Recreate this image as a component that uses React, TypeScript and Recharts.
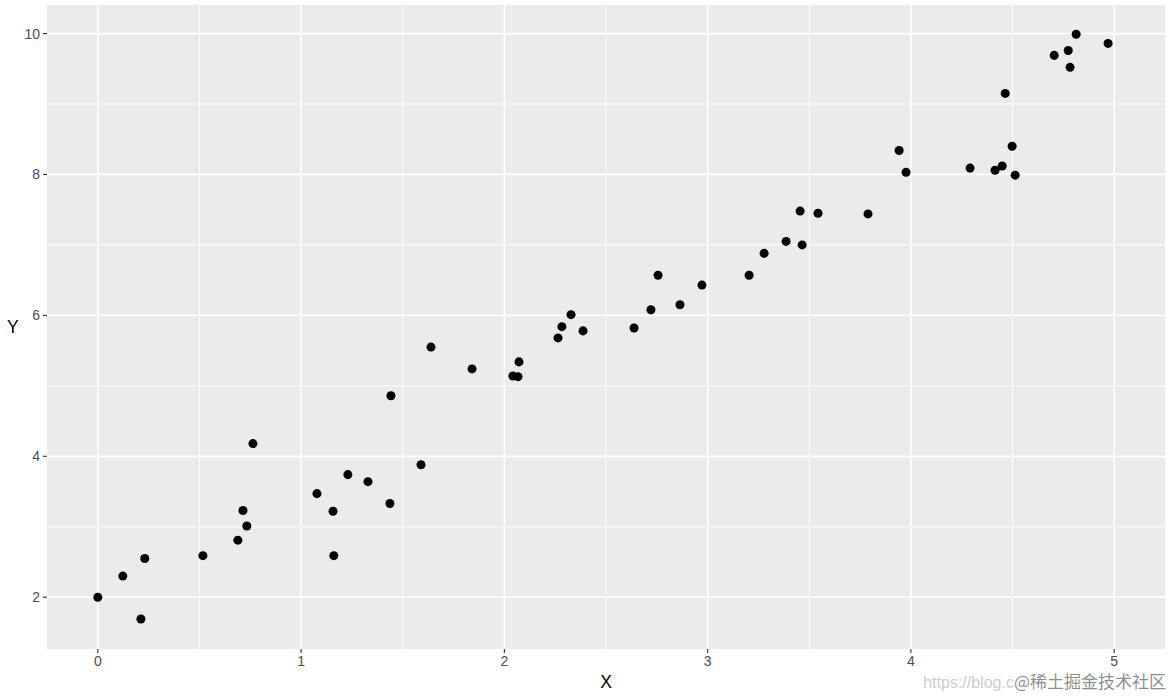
import React from "react";
import {
  ScatterChart, Scatter, XAxis, YAxis, ZAxis, CartesianGrid, Label,
} from "recharts";

// x and y, one pair per point
const X_VALUES = [
  0, 0.123, 0.212, 0.231, 0.517, 0.689, 0.714, 0.733, 0.763,
  1.078, 1.157, 1.161, 1.230, 1.329, 1.437, 1.442, 1.590, 1.639, 1.841,
  2.042, 2.067, 2.072, 2.264, 2.283, 2.328, 2.387, 2.638, 2.721, 2.756, 2.864, 2.972,
  3.204, 3.278, 3.386, 3.455, 3.465, 3.543, 3.789, 3.942, 3.976,
  4.291, 4.414, 4.449, 4.464, 4.498, 4.513, 4.705, 4.774, 4.783, 4.813, 4.970,
];
const Y_VALUES = [
  2.00, 2.30, 1.69, 2.55, 2.59, 2.81, 3.23, 3.01, 4.18,
  3.47, 3.22, 2.59, 3.74, 3.64, 3.33, 4.86, 3.88, 5.55, 5.24,
  5.14, 5.13, 5.34, 5.68, 5.84, 6.01, 5.78, 5.82, 6.08, 6.57, 6.15, 6.43,
  6.57, 6.88, 7.05, 7.48, 7.00, 7.45, 7.44, 8.34, 8.03,
  8.09, 8.06, 8.12, 9.15, 8.40, 7.99, 9.69, 9.76, 9.52, 9.99, 9.86,
];
const X_TICKS = [0, 1, 2, 3, 4, 5];
const Y_TICKS = [2, 4, 6, 8, 10];
const X_MINOR = [0.5, 1.5, 2.5, 3.5, 4.5];
const Y_MINOR = [3, 5, 7, 9];

const points = X_VALUES.map((x, i) => ({ x, y: Y_VALUES[i] }));

const FONT = "'Liberation Sans', Arial, sans-serif";
const TICK = { fill: "#4D4D4D", fontSize: 14, fontFamily: FONT };

export default function App() {
  return (
    <div style={{ position: "absolute", left: 0, top: 0, width: 1174, height: 697, background: "#fff" }}>
      <ScatterChart width={1174} height={697} margin={{ top: 5, right: 9, left: 0, bottom: 0 }}>
        {/* minor grid + panel fill */}
        <CartesianGrid fill="#EBEBEB" fillOpacity={1} stroke="#FFFFFF" strokeWidth={0.9}
          horizontalValues={Y_MINOR} verticalValues={X_MINOR} />
        {/* major grid */}
        <CartesianGrid fill="none" stroke="#FFFFFF" strokeWidth={1.7}
          horizontalValues={Y_TICKS} verticalValues={X_TICKS} />
        <XAxis type="number" dataKey="x" domain={[-0.25, 5.25]} ticks={X_TICKS}
          height={48} axisLine={false} tickSize={4} tickMargin={3}
          tickLine={{ stroke: "#333333", strokeWidth: 1.1 }} tick={TICK}
          allowDataOverflow>
          <Label value="X" position="insideBottom" offset={9}
            style={{ fill: "#000", fontSize: 17.5, fontFamily: FONT }} />
        </XAxis>
        <YAxis type="number" dataKey="y" domain={[1.265, 10.405]} ticks={Y_TICKS}
          width={47} axisLine={false} tickSize={4} tickMargin={3}
          tickLine={{ stroke: "#333333", strokeWidth: 1.1 }} tick={TICK}
          allowDataOverflow>
          <Label value="Y" position="insideLeft" offset={7} angle={0}
            style={{ fill: "#000", fontSize: 17.5, fontFamily: FONT }} />
        </YAxis>
        <ZAxis range={[66, 66]} />
        <Scatter data={points} fill="#000000" isAnimationActive={false} />
      </ScatterChart>
      <div style={{
        position: "absolute", right: 8, top: 668, fontFamily: FONT, fontSize: 16,
        whiteSpace: "nowrap", color: "rgba(190,190,190,0.8)",
      }}>
        https://blog.c
        <span style={{ color: "rgba(120,120,120,0.85)", fontFamily: "'Noto Sans CJK SC', sans-serif", fontSize: 17 }}>
          @稀土掘金技术社区
        </span>
      </div>
    </div>
  );
}
